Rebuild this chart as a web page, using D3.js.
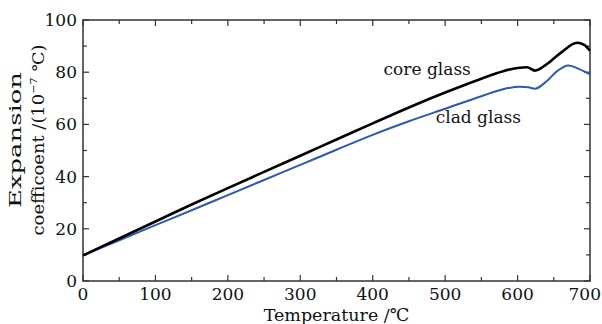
<!DOCTYPE html>
<html>
<head>
<meta charset="utf-8">
<script src="https://cdn.jsdelivr.net/npm/d3@7/dist/d3.min.js"></script>
<style>
  body { margin: 0; background: #fff; }
  text { font-family: "DejaVu Serif", "Liberation Serif", serif; fill: #111; }
</style>
</head>
<body>
<div id="chart"></div>
<script>
// temperatures (°C) and expansion coefficients (10^-7/°C)
const coreTemp = [0, 50, 100, 150, 200, 250, 300, 350, 400, 450, 500, 550, 580, 600, 613, 624, 640, 660, 682, 692, 700];
const coreVal  = [9.8, 16.3, 22.8, 29.3, 35.6, 41.8, 48.0, 54.2, 60.4, 66.5, 72.2, 77.5, 80.4, 81.6, 81.9, 80.6, 83.0, 87.5, 91.3, 90.5, 88.2];
const cladTemp = [0, 50, 100, 150, 200, 250, 300, 350, 400, 450, 500, 550, 580, 603, 615, 624, 640, 655, 670, 685, 700];
const cladVal  = [9.8, 15.6, 21.4, 27.1, 32.9, 38.7, 44.5, 50.3, 56.0, 61.2, 66.0, 70.8, 73.5, 74.4, 74.2, 73.7, 76.5, 80.5, 82.6, 81.2, 79.2];
const xTicks = [0, 100, 200, 300, 400, 500, 600, 700];
const yTicks = [0, 20, 40, 60, 80, 100];

const W = 602, H = 324;
const margin = { top: 20, right: 12, bottom: 43, left: 83 };
const width = W - margin.left - margin.right;
const height = H - margin.top - margin.bottom;

const svg = d3.select('#chart').append('svg')
  .attr('width', W).attr('height', H);
const g = svg.append('g')
  .attr('transform', 'translate(' + margin.left + ',' + margin.top + ')');

const x = d3.scaleLinear().domain([0, 700]).range([0, width]);
const y = d3.scaleLinear().domain([0, 100]).range([height, 0]);

// ticks, drawn inward on all four sides
const xMinor = d3.range(0, 701, 50);
const yMinor = d3.range(0, 101, 10);
const tk = g.append('g').attr('stroke', '#333').attr('stroke-width', 1.2);
xMinor.forEach(v => {
  const len = v % 100 === 0 ? 6 : 4;
  tk.append('line').attr('x1', x(v)).attr('x2', x(v)).attr('y1', height).attr('y2', height - len);
  tk.append('line').attr('x1', x(v)).attr('x2', x(v)).attr('y1', 0).attr('y2', len);
});
yMinor.forEach(v => {
  const len = v % 20 === 0 ? 6 : 4;
  tk.append('line').attr('y1', y(v)).attr('y2', y(v)).attr('x1', 0).attr('x2', len);
  tk.append('line').attr('y1', y(v)).attr('y2', y(v)).attr('x1', width).attr('x2', width - len);
});

g.append('rect').attr('width', width).attr('height', height)
  .attr('fill', 'none').attr('stroke', '#333').attr('stroke-width', 1.5);

// tick labels (last one pulled in so it stays on the page)
g.selectAll('.xl').data(xTicks).join('text')
  .attr('x', d => d === 700 ? W - margin.left - 1 : x(d)).attr('y', height + 19)
  .attr('text-anchor', d => d === 700 ? 'end' : 'middle').style('font-size', '17px')
  .text(d => d);
g.selectAll('.yl').data(yTicks).join('text')
  .attr('x', -6).attr('y', d => y(d) + 6)
  .attr('text-anchor', 'end').style('font-size', '17px')
  .text(d => d);

// axis titles
g.append('text')
  .attr('x', width / 2).attr('y', height + 40)
  .attr('text-anchor', 'middle').style('font-size', '17.5px')
  .text('Temperature /℃');

// y title: two lines, each stretched along its baseline as in the original
function stretched(cx, len, size, build) {
  const tg = svg.append('g');
  const t = tg.append('text').attr('text-anchor', 'middle').style('font-size', size + 'px');
  build(t);
  const s = len / t.node().getComputedTextLength();
  tg.attr('transform', 'translate(' + cx + ',140) rotate(-90) scale(' + s + ',1)');
}
stretched(21, 136, 17.5, t => t.text('Expansion'));
stretched(44, 191, 16, t => {
  t.append('tspan').text('coefficoent /(10');
  t.append('tspan').attr('dy', -7).style('font-size', '10px').text('−7');
  t.append('tspan').attr('dy', 7).text(' ℃)');
});

// curves
const line = d3.line().x(d => x(d[0])).y(d => y(d[1])).curve(d3.curveMonotoneX);
g.append('path').datum(d3.zip(cladTemp, cladVal))
  .attr('fill', 'none').attr('stroke', '#2f58b5').attr('stroke-width', 2)
  .attr('d', line);
g.append('path').datum(d3.zip(coreTemp, coreVal))
  .attr('fill', 'none').attr('stroke', '#000').attr('stroke-width', 2.6)
  .attr('d', line);

// curve labels
g.append('text').attr('x', x(415)).attr('y', y(78.9))
  .style('font-size', '17px').text('core glass');
g.append('text').attr('x', x(487)).attr('y', y(60.5))
  .style('font-size', '17px').text('clad glass');
</script>
</body>
</html>
